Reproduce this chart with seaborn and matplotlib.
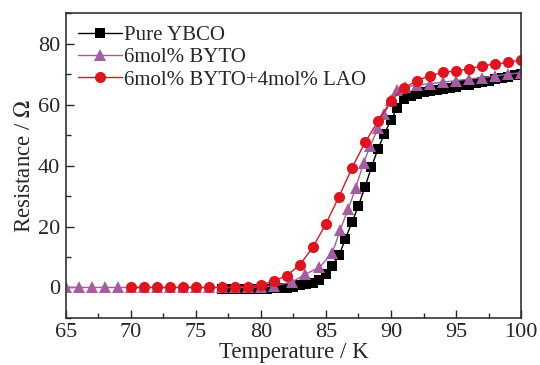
import os
os.environ.setdefault("MPLBACKEND", "Agg")
import matplotlib.pyplot as plt
import seaborn as sns
from matplotlib.ticker import MultipleLocator

# Pure YBCO (0.5 K steps)
t_ybco = [77, 77.5, 78, 78.5, 79, 79.5, 80, 80.5, 81, 81.5, 82, 82.5, 83, 83.5, 84, 84.5,
          85, 85.5, 86, 86.5, 87, 87.5, 88, 88.5, 89, 89.5, 90, 90.5, 91, 91.5, 92, 92.5,
          93, 93.5, 94, 94.5, 95, 95.5, 96, 96.5, 97, 97.5, 98, 98.5, 99, 99.5, 100]
r_ybco = [-0.6, -0.6, -0.6, -0.5, -0.5, -0.5, -0.4, -0.4, -0.3, -0.2, -0.1, 0.2, 0.7, 1.0, 1.5, 2.3,
          4.5, 7.0, 10.5, 16.0, 21.4, 26.8, 33.0, 39.5, 45.5, 50.5, 55.0, 59.0, 61.7, 62.9, 63.6, 64.1,
          64.5, 64.9, 65.2, 65.6, 65.9, 66.3, 66.6, 67.0, 67.5, 67.9, 68.3, 68.7, 69.1, 69.6, 70.0]

# 6mol% BYTO
t_byto = [65, 66, 67, 68, 69, 70, 71, 72, 73, 74, 75, 76, 77, 78, 79, 80, 81,
          82.4, 83.4, 84.5, 85.5, 86.1, 86.7, 87.3, 87.9, 88.4, 89.0, 89.5, 90.0, 90.5, 91.1,
          92, 93, 94, 95, 96, 97, 98, 99, 100]
r_byto = [0.0, 0.0, 0.0, 0.0, 0.0, 0.0, 0.0, 0.0, 0.0, 0.0, 0.0, 0.0, 0.0, 0.0, 0.1, 0.2, 0.5,
          1.8, 4.3, 6.6, 11.4, 19.0, 25.6, 32.8, 41.0, 46.4, 52.3, 57.0, 61.5, 64.8, 65.8,
          66.4, 66.9, 67.4, 67.9, 68.4, 68.9, 69.4, 70.0, 70.5]

# 6mol% BYTO + 4mol% LAO
t_lao = [70, 71, 72, 73, 74, 75, 76, 77, 78, 79, 80, 81, 82, 83, 84, 85,
         86, 87, 88, 89, 90, 91, 92, 93, 94, 95, 96, 97, 98, 99, 100]
r_lao = [0.0, 0.0, 0.0, 0.0, 0.0, 0.0, 0.0, 0.0, 0.1, 0.3, 0.8, 2.1, 3.9, 7.5, 13.2, 20.9,
         29.8, 39.2, 47.6, 54.5, 61.3, 65.5, 67.9, 69.5, 70.6, 71.1, 71.7, 72.8, 73.3, 73.9, 74.7]

sns.set_theme(style="ticks")
plt.rcParams["font.family"] = ["Liberation Serif", "DejaVu Serif"]
plt.rcParams["mathtext.fontset"] = "stix"

fig = plt.figure(figsize=(5.4, 3.65), dpi=100)
ax = fig.add_axes([0.1217, 0.129, 0.8433, 0.8346])

sns.lineplot(x=t_ybco, y=r_ybco, ax=ax, color="black", marker="s", markersize=6.5,
             markeredgewidth=0, linewidth=1, label="Pure YBCO", sort=False)
sns.lineplot(x=t_byto, y=r_byto, ax=ax, color="#A35DA0", marker="^", markersize=8,
             markeredgewidth=0, linewidth=1, label="6mol% BYTO", sort=False)
sns.lineplot(x=t_lao, y=r_lao, ax=ax, color="#E0141E", marker="o", markersize=8,
             markeredgewidth=0, linewidth=1, label="6mol% BYTO+4mol% LAO", sort=False)

ax.set_xlim(65, 100)
ax.set_ylim(-10, 90)
ax.xaxis.set_major_locator(MultipleLocator(5))
ax.xaxis.set_minor_locator(MultipleLocator(2.5))
ax.yaxis.set_major_locator(MultipleLocator(20))
ax.yaxis.set_minor_locator(MultipleLocator(10))
ax.tick_params(which="both", direction="in", top=False, right=False, labelsize=16, width=1)
ax.tick_params(which="major", length=6, pad=4)
ax.tick_params(which="minor", length=3.5)
for s in ax.spines.values():
    s.set_linewidth(1.2)
    s.set_color("#333333")

ax.set_xlabel("Temperature / K", fontsize=16.5, labelpad=0)
ax.set_ylabel("Resistance / $\\Omega$", fontsize=16.5, labelpad=2)

ax.legend(loc="upper left", frameon=False, fontsize=15, handlelength=2.1, handletextpad=0.1,
          borderaxespad=0.2, labelspacing=0.12, borderpad=0.4)

plt.savefig("out.png", dpi=100)
plt.close()
